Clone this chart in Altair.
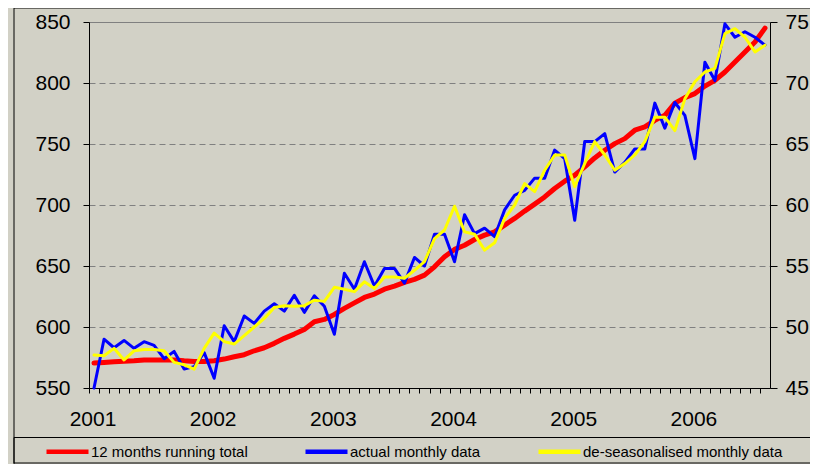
import json
import altair as alt
import pandas as pd

FONT = "Liberation Sans, Arial, sans-serif"
BG = "#D2D1C6"

series_names = ["12 months running total", "actual monthly data", "de-seasonalised monthly data"]
series_colors = ["#FF0000", "#0000FF", "#FFFF00"]
year_labels = ["2001", "2002", "2003", "2004", "2005", "2006"]
left_ticks = [550, 600, 650, 700, 750, 800, 850]
right_ticks = [45, 50, 55, 60, 65, 70, 75]

# monthly data, Jan 2001 .. Aug 2006
running_total = [
    570.5, 571.0, 571.5, 572.0, 572.3, 573.0, 573.0, 573.0, 573.0, 572.3, 571.8, 571.8,
    572.3, 573.7, 575.6, 577.3, 580.5, 583.0, 586.6, 590.7, 594.2, 598.0, 604.3, 606.2,
    610.3, 615.3, 619.8, 624.2, 627.0, 631.0, 633.5, 636.5, 639.0, 642.5, 649.3, 657.5,
    663.6, 667.0, 671.7, 675.3, 678.0, 683.5, 689.0, 695.0, 700.7, 706.6, 713.5, 719.5,
    724.4, 731.2, 738.6, 744.9, 750.3, 754.4, 761.3, 764.0, 769.4, 773.5, 783.5, 788.0,
    791.3, 797.5, 802.2, 809.0, 817.2, 825.4, 833.6, 845.0,
]
actual_monthly = [
    45.0, 49.0, 48.3, 48.9, 48.25, 48.8, 48.5, 47.4, 48.0, 46.55, 46.75, 47.9,
    45.8, 50.1, 48.8, 50.9, 50.3, 51.3, 51.9, 51.3, 52.6, 51.2, 52.55, 51.7,
    49.4, 54.4, 53.1, 55.35, 53.35, 54.8, 54.8, 53.6, 55.7, 55.0, 57.6, 57.6,
    55.35, 59.2, 57.65, 58.1, 57.4, 59.6, 60.8, 61.2, 62.2, 62.2, 64.5, 63.8,
    58.75, 65.2, 65.2, 65.85, 62.7, 63.5, 64.6, 64.6, 68.35, 66.3, 68.4, 67.35,
    63.8, 71.7, 70.2, 74.85, 73.75, 74.2, 73.75, 73.1,
]
deseasonalised = [
    47.7, 47.65, 48.25, 47.3, 48.05, 48.15, 48.15, 48.05, 47.1, 46.9, 46.55, 48.25,
    49.5, 48.8, 48.6, 49.3, 50.0, 50.7, 51.6, 51.75, 51.7, 51.75, 52.2, 52.1,
    53.25, 53.1, 52.9, 53.7, 53.15, 54.1, 54.1, 54.0, 54.65, 55.35, 57.25, 57.95,
    59.9, 57.8, 57.6, 56.3, 56.9, 58.9, 60.0, 61.75, 61.1, 62.85, 64.1, 64.1,
    61.5, 63.4, 65.2, 64.1, 62.85, 63.4, 64.1, 65.2, 67.2, 67.2, 66.1, 68.7,
    70.1, 70.9, 71.2, 74.05, 74.45, 73.75, 72.55, 73.1,
]

n = len(running_total)
months = list(range(n))
df = pd.DataFrame({
    "month": months * 3,
    "series": [series_names[0]] * n + [series_names[1]] * n + [series_names[2]] * n,
    "value": running_total + actual_monthly + deseasonalised,
})

label_expr = f"datum.value % 12 === 0 ? {json.dumps(year_labels)}[datum.value / 12] : ''"

x_axis = alt.Axis(
    values=months, tickOffset=-5, labelOffset=3.5, tickSize=5, tickColor="black",
    domainColor="black", labelExpr=label_expr, labelFontSize=21, labelFont=FONT,
    labelColor="black", labelPadding=15, labelFlush=False, labelOverlap=False,
    grid=False, title=None,
)
x_enc = alt.X("month:Q", scale=alt.Scale(domain=[-0.5, n - 0.5], nice=False, zero=False), axis=x_axis)

legend = alt.Legend(
    orient="none", legendX=-45, legendY=406, direction="horizontal", title=None,
    symbolType="stroke", symbolSize=1764, symbolStrokeWidth=4.5, labelFontSize=15,
    labelFont=FONT, labelColor="black", columnPadding=48, labelOffset=0, padding=0,
    labelLimit=400,
)
color_enc = alt.Color("series:N", scale=alt.Scale(domain=series_names, range=series_colors), legend=legend)

left_axis = alt.Axis(
    orient="left", values=left_ticks, grid=True, gridColor="#808080", gridDash=[6, 4],
    gridWidth=1, tickSize=6, tickColor="black", domainColor="black", labelFontSize=21,
    labelFont=FONT, labelColor="black", labelPadding=13, title=None,
)
right_axis = alt.Axis(
    orient="right", values=right_ticks, grid=False, tickSize=7, tickColor="black",
    domainColor="black", labelFontSize=21, labelFont=FONT, labelColor="black",
    labelPadding=8, title=None,
)

one = alt.Data(values=[{}])
frame_left = alt.Chart(one).mark_rule(color="black", strokeWidth=1).encode(
    x=alt.value(-75), y=alt.value(-14), y2=alt.value(460))
frame_top = alt.Chart(one).mark_rule(color="black", strokeWidth=1).encode(
    x=alt.value(-75), x2=alt.value(740), y=alt.value(-14))
legend_box = alt.Chart(one).mark_rect(fillOpacity=0, stroke="black", strokeWidth=1).encode(
    x=alt.value(-75), x2=alt.value(723), y=alt.value(415.5), y2=alt.value(441))

red = alt.Chart(df).transform_filter(alt.datum.series == series_names[0]).mark_line(
    strokeWidth=5, strokeJoin="round", strokeCap="round").encode(
    x=x_enc,
    y=alt.Y("value:Q", scale=alt.Scale(domain=[550, 850], nice=False, zero=False), axis=left_axis),
    color=color_enc,
)

y_right = alt.Y("value:Q", scale=alt.Scale(domain=[45, 75], nice=False, zero=False), axis=right_axis)
blue = alt.Chart(df).transform_filter(alt.datum.series == series_names[1]).mark_line(
    strokeWidth=3, strokeJoin="round", strokeCap="round").encode(x=x_enc, y=y_right, color=color_enc)
yellow = alt.Chart(df).transform_filter(alt.datum.series == series_names[2]).mark_line(
    strokeWidth=3, strokeJoin="round", strokeCap="round").encode(x=x_enc, y=y_right, color=color_enc)

right_layer = alt.layer(blue, yellow)

chart = alt.layer(frame_left, frame_top, legend_box, red, right_layer).resolve_scale(
    y="independent"
).properties(
    width=681, height=366,
    padding={"left": 81, "top": 14, "right": 40, "bottom": 76},
    autosize=alt.AutoSizeParams(type="none"),
    background=BG,
).configure_view(stroke="#808080", strokeWidth=1)

chart.save("out.html", embed_options={"renderer": "svg", "actions": False})
